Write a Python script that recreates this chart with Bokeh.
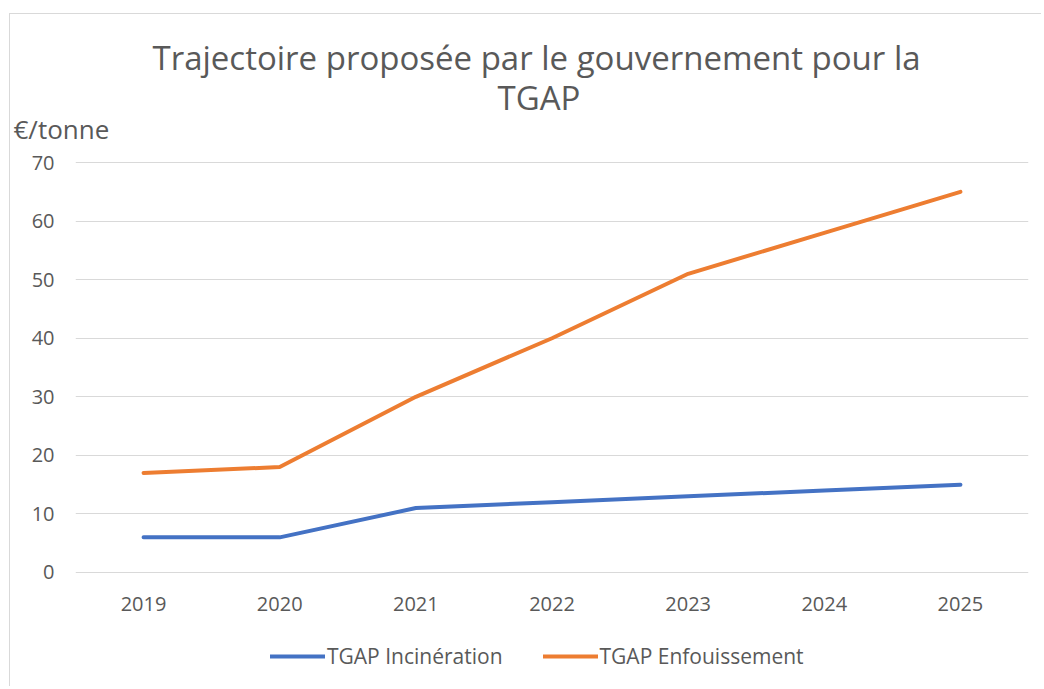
from bokeh.plotting import figure
from bokeh.models import Title, Legend, LegendItem, FactorRange, Range1d, FixedTicker
from bokeh.embed import file_html
from bokeh.resources import INLINE

years = ["2019", "2020", "2021", "2022", "2023", "2024", "2025"]
incineration = [6, 6, 11, 12, 13, 14, 15]
enfouissement = [17, 18, 30, 40, 51, 58, 65]
y_ticks = [0, 10, 20, 30, 40, 50, 60, 70]
title_line1 = "Trajectoire proposée par le gouvernement pour la"
title_line2 = "TGAP"
unit_label = "€/tonne"

FONT = "Open Sans"
GRAY = "#595959"

p = figure(width=1032, height=673, x_range=FactorRange(*years, range_padding=0),
           y_range=Range1d(-19.3, 70.35), output_backend="svg", toolbar_location=None,
           title=None, min_border_left=65, min_border_right=14, min_border_top=146,
           min_border_bottom=2)
p.margin = (13, 0, 0, 9)
p.styles = {"border-top": "1px solid #d9d9d9", "border-left": "1px solid #d9d9d9"}
p.outline_line_color = None

l1 = p.line(years, incineration, line_color="#4472C4", line_width=4, line_cap="round")
l2 = p.line(years, enfouissement, line_color="#ED7D31", line_width=4, line_cap="round")

p.add_layout(Title(text=unit_label, align="left", offset=-62, text_font=FONT,
                   text_font_size="26px", text_font_style="normal", text_color=GRAY,
                   standoff=27), "above")
p.add_layout(Title(text=title_line2, align="left", offset=422, text_font=FONT,
                   text_font_size="33px", text_font_style="normal", text_color=GRAY,
                   standoff=-49), "above")
p.add_layout(Title(text=title_line1, align="left", offset=77, text_font=FONT,
                   text_font_size="33px", text_font_style="normal", text_color=GRAY,
                   standoff=32), "above")

p.yaxis.ticker = FixedTicker(ticks=y_ticks)
p.xaxis.fixed_location = 0
for ax in (p.xaxis[0], p.yaxis[0]):
    ax.axis_line_color = None
    ax.major_tick_line_color = None
    ax.minor_tick_line_color = None
    ax.major_tick_out = 0
    ax.major_tick_in = 0
    ax.major_label_text_font = FONT
    ax.major_label_text_font_size = "20px"
    ax.major_label_text_color = GRAY
p.yaxis.major_label_standoff = 21
p.xaxis.major_label_standoff = 25

p.xgrid.grid_line_color = None
p.ygrid.grid_line_color = "#d9d9d9"
p.ygrid.grid_line_width = 1

legend = Legend(items=[LegendItem(label="TGAP Incinération", renderers=[l1]),
                       LegendItem(label="TGAP Enfouissement", renderers=[l2])],
                orientation="horizontal", glyph_width=55, location=(195, 15),
                label_text_font=FONT, label_text_font_size="21px", label_text_color=GRAY,
                border_line_color=None, background_fill_alpha=0, spacing=40,
                label_standoff=2, padding=0, margin=0)
p.add_layout(legend)

open("out.html", "w").write(file_html(p, INLINE))
